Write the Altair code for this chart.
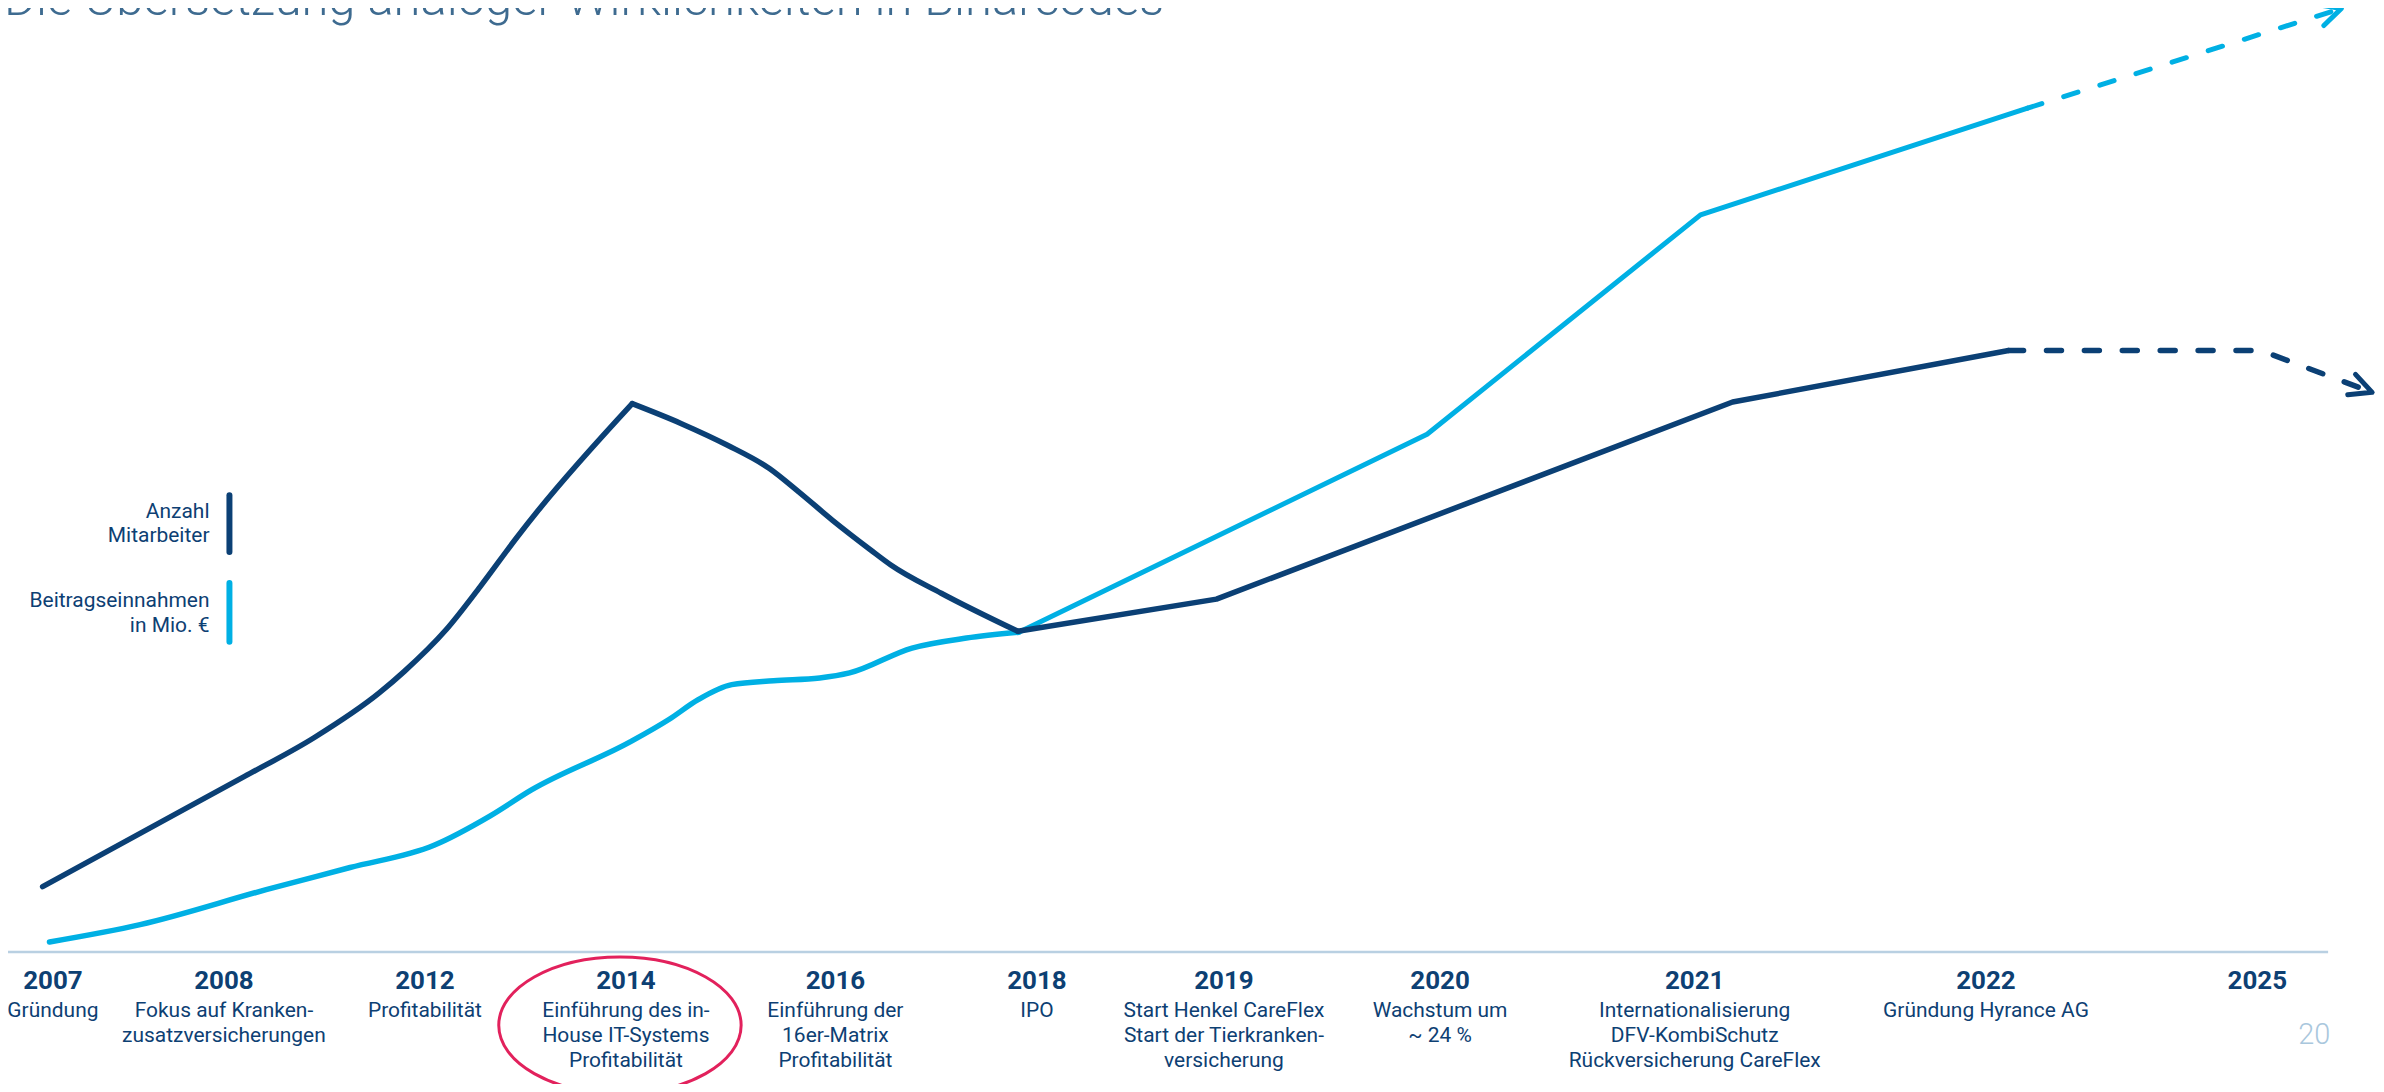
import altair as alt
import pandas as pd

# ---------------- data ----------------
# timeline: event years (label columns)
EVENT_YEARS = [2007, 2008, 2012, 2014, 2016, 2018, 2019, 2020, 2021, 2022, 2025]
EVENT_LABELS = ["2007", "2008", "2012", "2014", "2016", "2018", "2019", "2020", "2021", "2022", "2025"]
EVENT_TEXTS = [
    "Gründung",
    "Fokus auf Kranken-\nzusatzversicherungen",
    "Profitabilität",
    "Einführung des in-\nHouse IT-Systems\nProfitabilität",
    "Einführung der\n16er-Matrix\nProfitabilität",
    "IPO",
    "Start Henkel CareFlex\nStart der Tierkranken-\nversicherung",
    "Wachstum um\n~ 24 %",
    "Internationalisierung\nDFV-KombiSchutz\nRückversicherung CareFlex",
    "Gründung Hyrance AG",
    "",
]
HIGHLIGHT_YEAR = [2014]

# Anzahl Mitarbeiter (index values, schematic)
MA_RISE_YEARS = [2006.94, 2007.51, 2008.41, 2009.80, 2011.09, 2011.59, 2012.21, 2012.55, 2012.92, 2013.13, 2014.06]
MA_RISE_VALUES = [6.93, 12.59, 18.62, 22.75, 27.48, 29.77, 34.18, 38.76, 44.05, 46.88, 58.17]
MA_FALL_YEARS = [2014.06, 2014.53, 2014.97, 2015.37, 2015.65, 2015.97, 2016.35, 2016.55, 2017.05, 2017.81]
MA_FALL_VALUES = [58.17, 56.05, 53.76, 51.29, 48.81, 45.82, 42.65, 41.06, 38.06, 34.02]
MA_LATE_YEARS = [2017.81, 2018.96, 2021.13, 2022.25]
MA_LATE_VALUES = [34.02, 37.43, 58.34, 63.81]
MA_OUTLOOK_YEARS = [2022.25, 2025.00, 2025.13, 2026.27]
MA_OUTLOOK_VALUES = [63.81, 63.80, 63.49, 59.37]

# Beitragseinnahmen in Mio. EUR (index values, schematic)
BE_EARLY_YEARS = [2006.98, 2007.51, 2008.84, 2010.51, 2012.09, 2012.65, 2013.06, 2014.04, 2014.41,
                  2014.69, 2015.01, 2015.41, 2015.85, 2016.14, 2016.76, 2017.30, 2017.82]
BE_EARLY_VALUES = [1.06, 2.90, 6.61, 8.96, 11.32, 14.44, 17.19, 22.28, 24.66,
                   26.77, 28.36, 28.78, 29.07, 29.60, 32.24, 33.30, 33.92]
BE_LATE_YEARS = [2017.82, 2019.94, 2021.02, 2022.46]
BE_LATE_VALUES = [33.92, 54.92, 78.20, 89.52]
BE_OUTLOOK_YEARS = [2022.46, 2025.93]
BE_OUTLOOK_VALUES = [89.52, 100.1]

LEGEND_LABELS = ["Anzahl\nMitarbeiter", "Beitragseinnahmen\nin Mio. €"]
TITLE = "Die Übersetzung analoger Wirklichkeiten in Binärcodes"
PAGE_NO = "20"

# ---------------- styling ----------------
DARK = "#0b4075"
LIGHT = "#00b0e4"
TEXT_C = "#0d4073"
TITLE_C = "#3e6b90"
SEP_C = "#b9d0e2"
ELLIPSE_C = "#e2215c"
PAGE_C = "#a9c7dd"
FONT = "Roboto"

# piecewise timeline scale (label columns are not evenly spaced)
X_RANGE = [45, 216.5, 418, 619.5, 829.5, 1031.6, 1219, 1435.7, 1691, 1983, 2255]
x_scale = alt.Scale(type="linear", domain=EVENT_YEARS, range=X_RANGE, nice=False, zero=False)
y_scale = alt.Scale(type="linear", domain=[0, 100], range=[945, 0], nice=False, zero=False)

X = lambda: alt.X("year:Q", scale=x_scale, axis=None)
Y = lambda: alt.Y("value:Q", scale=y_scale, axis=None)


def line_layer(years, values, color, width, dash=None, interp="linear"):
    df = pd.DataFrame({"year": years, "value": values})
    kw = dict(color=color, strokeWidth=width, strokeCap="round", strokeJoin="round",
              interpolate=interp)
    if dash:
        kw["strokeDash"] = dash
    return alt.Chart(df).mark_line(**kw).encode(x=X(), y=Y())


DASH = [15, 23]
layers = []

# separator line
one = pd.DataFrame({"k": [0]})
layers.append(alt.Chart(one).mark_rule(color=SEP_C, strokeWidth=2.5).encode(
    x=alt.value(0), x2=alt.value(2326), y=alt.value(945)))

# lines
layers += [
    line_layer(BE_EARLY_YEARS, BE_EARLY_VALUES, LIGHT, 5.5, interp="monotone"),
    line_layer(BE_LATE_YEARS, BE_LATE_VALUES, LIGHT, 5),
    line_layer(BE_OUTLOOK_YEARS, BE_OUTLOOK_VALUES, LIGHT, 5, dash=DASH),
    line_layer(MA_RISE_YEARS, MA_RISE_VALUES, DARK, 5.5, interp="monotone"),
    line_layer(MA_FALL_YEARS, MA_FALL_VALUES, DARK, 5.5, interp="monotone"),
    line_layer(MA_LATE_YEARS, MA_LATE_VALUES, DARK, 5.5),
    line_layer(MA_OUTLOOK_YEARS, MA_OUTLOOK_VALUES, DARK, 5.5, dash=DASH),
]

# arrow heads (open chevrons) at the end of the outlook lines
CHEVRON = "M-1,-0.5L0,0L-1,0.5"
for yrs, vals, col, ang in [(BE_OUTLOOK_YEARS, BE_OUTLOOK_VALUES, LIGHT, 342.3),
                            (MA_OUTLOOK_YEARS, MA_OUTLOOK_VALUES, DARK, 20.7)]:
    df = pd.DataFrame({"year": [yrs[-1]], "value": [vals[-1]]})
    layers.append(alt.Chart(df).mark_point(
        shape=CHEVRON, size=1936, angle=ang, filled=False, strokeWidth=5,
        strokeCap="round", strokeJoin="round", color=col, opacity=1).encode(x=X(), y=Y()))

# timeline labels
events = pd.DataFrame({"year": EVENT_YEARS, "label": EVENT_LABELS, "desc": EVENT_TEXTS})
layers.append(alt.Chart(events).mark_text(
    font=FONT, fontSize=26, fontWeight="bold", color=TEXT_C, align="center",
    baseline="alphabetic").encode(x=X(), y=alt.value(982), text="label:N"))
layers.append(alt.Chart(events).mark_text(
    font=FONT, fontSize=21, color=TEXT_C, align="center", baseline="alphabetic",
    lineBreak="\n", lineHeight=25).encode(x=X(), y=alt.value(1010), text="desc:N"))

# highlight ellipse around 2014
ELLIPSE = ("M-1,0C-1,-0.3115,-0.5523,-0.564,0,-0.564C0.5523,-0.564,1,-0.3115,1,0"
           "C1,0.3115,0.5523,0.564,0,0.564C-0.5523,0.564,-1,0.3115,-1,0Z")
layers.append(alt.Chart(pd.DataFrame({"year": HIGHLIGHT_YEAR})).mark_point(
    shape=ELLIPSE, size=59049, filled=False, strokeWidth=3, color=ELLIPSE_C, opacity=1,
    xOffset=-6).encode(x=X(), y=alt.value(1018.5)))

# legend
layers.append(alt.Chart(one).mark_text(
    font=FONT, fontSize=21, color=TEXT_C, align="right", baseline="alphabetic",
    lineBreak="\n", lineHeight=24, text=LEGEND_LABELS[0]).encode(
    x=alt.value(202), y=alt.value(510)))
layers.append(alt.Chart(one).mark_text(
    font=FONT, fontSize=21, color=TEXT_C, align="right", baseline="alphabetic",
    lineBreak="\n", lineHeight=25, text=LEGEND_LABELS[1]).encode(
    x=alt.value(202), y=alt.value(599)))
layers.append(alt.Chart(one).mark_rule(color=DARK, strokeWidth=6, strokeCap="round").encode(
    x=alt.value(222), y=alt.value(487), y2=alt.value(544)))
layers.append(alt.Chart(one).mark_rule(color=LIGHT, strokeWidth=6, strokeCap="round").encode(
    x=alt.value(222), y=alt.value(575), y2=alt.value(634)))

# title (cut at top edge as in the slide) and page number
layers.append(alt.Chart(one).mark_text(
    font=FONT, fontSize=49, fontWeight=300, color=TITLE_C, align="left",
    baseline="alphabetic", text=TITLE).encode(x=alt.value(-4), y=alt.value(5.5)))
layers.append(alt.Chart(one).mark_text(
    font=FONT, fontSize=29, fontWeight=300, color=PAGE_C, align="center",
    baseline="alphabetic", text=PAGE_NO).encode(x=alt.value(2312), y=alt.value(1037)))

chart = alt.layer(*layers).properties(
    width=2374, height=1076, padding=0,
    autosize=alt.AutoSizeParams(type="none"),
    background="white",
).configure_view(stroke=None)

chart.save("out.html", embed_options={"renderer": "svg", "actions": False})
